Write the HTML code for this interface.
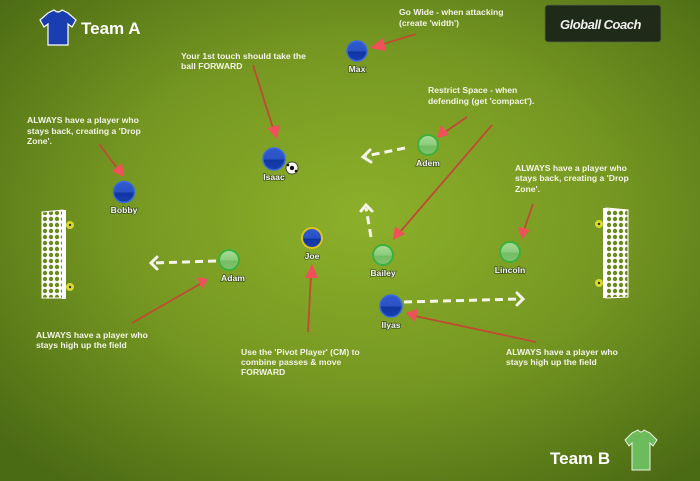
<!DOCTYPE html>
<html><head><meta charset="utf-8"><style>
html,body{margin:0;padding:0;width:700px;height:481px;overflow:hidden;background:#5d7e1c}
svg{display:block}
text{font-family:"Liberation Sans",sans-serif;font-weight:bold}
.t{fill:#f4f4e6;font-size:8.6px}
.l{fill:#f4f4f4;font-size:8.6px;text-anchor:middle;font-weight:bold;stroke:rgba(30,40,20,0.6);stroke-width:1.6;paint-order:stroke}
.r{stroke:#c04a34;stroke-width:1.8;fill:none}
.h{fill:#f0505a}
.d{stroke:#f4f4ea;stroke-width:3;stroke-dasharray:8,5;fill:none}
.dh{stroke:#f4f4ea;stroke-width:3;fill:none;stroke-linecap:round}
</style></head><body>
<svg width="700" height="481" viewBox="0 0 700 481" xmlns="http://www.w3.org/2000/svg">
<defs>
<radialGradient id="bg" cx="0.52" cy="0.45" r="0.7">
<stop offset="0" stop-color="#8cb02a"/>
<stop offset="0.5" stop-color="#769822"/>
<stop offset="1" stop-color="#4b6a14"/>
</radialGradient>
<linearGradient id="bl" x1="0" y1="0" x2="0" y2="1">
<stop offset="0" stop-color="#2f5bd0"/><stop offset="0.5" stop-color="#2a52c4"/><stop offset="0.55" stop-color="#0f35a0"/><stop offset="1" stop-color="#1840b0"/>
</linearGradient>
<linearGradient id="gr" x1="0" y1="0" x2="0" y2="1">
<stop offset="0" stop-color="#a8dc98"/><stop offset="0.5" stop-color="#8ccc7c"/><stop offset="0.55" stop-color="#74bc64"/><stop offset="1" stop-color="#80c470"/>
</linearGradient>
<pattern id="net" width="6" height="6" patternUnits="userSpaceOnUse">
<rect width="6" height="6" fill="#fff"/>
<circle cx="3" cy="3" r="2.2" fill="#6a8a20"/>
</pattern>
</defs>
<rect width="700" height="481" fill="url(#bg)"/>

<path d="M48,13 L54,10 Q58,14 62,10 L68,13 L76,20 L72,27 L68,24 L68,45 L48,45 L48,24 L44,27 L40,20 Z" fill="#1a3eb0" stroke="#fff" stroke-width="1.2"/>
<text x="81" y="34" font-size="17" fill="#fff">Team A</text>

<path d="M632,433 L638,430 Q641,434 644,430 L650,433 L657,440 L653,446 L650,443 L650,470 L632,470 L632,443 L629,446 L625,440 Z" fill="#6cbc5c" stroke="#e8f4e0" stroke-width="1"/>
<text x="550" y="464" font-size="17" fill="#fff">Team B</text>

<rect x="545" y="5" width="116" height="37" rx="3" fill="#1f2a18" stroke="#5a6a40" stroke-width="0.8"/>
<text x="560" y="29" font-size="13" fill="#eee" font-style="italic" letter-spacing="-0.5">Globall Coach</text>

<path d="M42,212 L63,210 L63,298 L42,298 Z" fill="url(#net)" stroke="#fff" stroke-width="1"/>
<rect x="62" y="210" width="4" height="89" fill="#fff"/>
<circle cx="70" cy="225" r="4" fill="#d8d830"/><circle cx="70" cy="225" r="1.2" fill="#333"/>
<circle cx="70" cy="287" r="4" fill="#d8d830"/><circle cx="70" cy="287" r="1.2" fill="#333"/>
<path d="M606,208 L628,210 L628,297 L606,298 Z" fill="url(#net)" stroke="#fff" stroke-width="1"/>
<rect x="603" y="208" width="4" height="90" fill="#fff"/>
<circle cx="599" cy="224" r="4" fill="#d8d830"/><circle cx="599" cy="224" r="1.2" fill="#333"/>
<circle cx="599" cy="283" r="4" fill="#d8d830"/><circle cx="599" cy="283" r="1.2" fill="#333"/>

<line class="r" x1="416" y1="34" x2="380" y2="45"/><polygon class="h" points="370,48 383,38 386,51"/>
<line class="r" x1="253" y1="65" x2="273" y2="128"/><polygon class="h" points="277,139 267,128 280,125"/>
<line class="r" x1="99" y1="144" x2="117" y2="168"/><polygon class="h" points="124,177 112,171 122,163"/>
<line class="r" x1="467" y1="117" x2="445" y2="132"/><polygon class="h" points="437,138 441,125 449,135"/>
<line class="r" x1="492" y1="125" x2="400" y2="232"/><polygon class="h" points="393,240 395,226 405,234"/>
<line class="r" x1="533" y1="204" x2="524" y2="230"/><polygon class="h" points="522,239 518,227 530,230"/>
<line class="r" x1="132" y1="323" x2="200" y2="284"/><polygon class="h" points="208,279 197,277 202,289"/>
<line class="r" x1="308" y1="332" x2="311" y2="274"/><polygon class="h" points="312,264 305,278 318,278"/>
<line class="r" x1="536" y1="342" x2="415" y2="316"/><polygon class="h" points="406,313 418,309 415,322"/>

<line class="d" x1="405" y1="148" x2="366" y2="156"/><polyline class="dh" points="370,150 363,157 371,162"/>
<line class="d" x1="371" y1="237" x2="366" y2="208"/><polyline class="dh" points="361,211 366,205 372,211"/>
<line class="d" x1="216" y1="261" x2="154" y2="263"/><polyline class="dh" points="157,257 151,263 157,269"/>
<line class="d" x1="404" y1="302" x2="520" y2="299"/><polyline class="dh" points="517,293 523,299 517,305"/>

<g stroke-width="1.5">
<circle cx="357" cy="51" r="10" fill="url(#bl)" stroke="#3a6ae0"/>
<circle cx="274" cy="159" r="11" fill="url(#bl)" stroke="#3a6ae0"/>
<circle cx="124" cy="192" r="10.5" fill="url(#bl)" stroke="#3a6ae0"/>
<circle cx="312" cy="238" r="10" fill="url(#bl)" stroke="#e0c020" stroke-width="2"/>
<circle cx="391" cy="306" r="11" fill="url(#bl)" stroke="#3a6ae0"/>
<circle cx="428" cy="145" r="10" fill="url(#gr)" stroke="#3cb03c" stroke-width="2"/>
<circle cx="383" cy="255" r="10" fill="url(#gr)" stroke="#3cb03c" stroke-width="2"/>
<circle cx="510" cy="252" r="10" fill="url(#gr)" stroke="#3cb03c" stroke-width="2"/>
<circle cx="229" cy="260" r="10" fill="url(#gr)" stroke="#3cb03c" stroke-width="2"/>
</g>
<circle cx="292" cy="168" r="6" fill="#fff" stroke="#222" stroke-width="0.8"/>
<circle cx="292" cy="168" r="2.2" fill="#111"/><circle cx="288" cy="165" r="1.3" fill="#111"/><circle cx="296" cy="171" r="1.3" fill="#111"/>

<text class="l" x="357" y="72">Max</text>
<text class="l" x="274" y="180">Isaac</text>
<text class="l" x="124" y="213">Bobby</text>
<text class="l" x="428" y="166">Adem</text>
<text class="l" x="312" y="259">Joe</text>
<text class="l" x="383" y="276">Bailey</text>
<text class="l" x="510" y="273">Lincoln</text>
<text class="l" x="233" y="281">Adam</text>
<text class="l" x="391" y="328">Ilyas</text>

<text class="t" x="399" y="15">Go Wide - when attacking</text>
<text class="t" x="399" y="26">(create 'width')</text>
<text class="t" x="181" y="59">Your 1st touch should take the</text>
<text class="t" x="181" y="69">ball FORWARD</text>
<text class="t" x="428" y="93">Restrict Space - when</text>
<text class="t" x="428" y="104">defending (get 'compact').</text>
<text class="t" x="27" y="123">ALWAYS have a player who</text>
<text class="t" x="27" y="134">stays back, creating a 'Drop</text>
<text class="t" x="27" y="144">Zone'.</text>
<text class="t" x="515" y="171">ALWAYS have a player who</text>
<text class="t" x="515" y="181">stays back, creating a 'Drop</text>
<text class="t" x="515" y="192">Zone'.</text>
<text class="t" x="36" y="338">ALWAYS have a player who</text>
<text class="t" x="36" y="348">stays high up the field</text>
<text class="t" x="241" y="355">Use the 'Pivot Player' (CM) to</text>
<text class="t" x="241" y="365">combine passes &amp; move</text>
<text class="t" x="241" y="375">FORWARD</text>
<text class="t" x="506" y="355">ALWAYS have a player who</text>
<text class="t" x="506" y="365">stays high up the field</text>
</svg>
</body></html>
